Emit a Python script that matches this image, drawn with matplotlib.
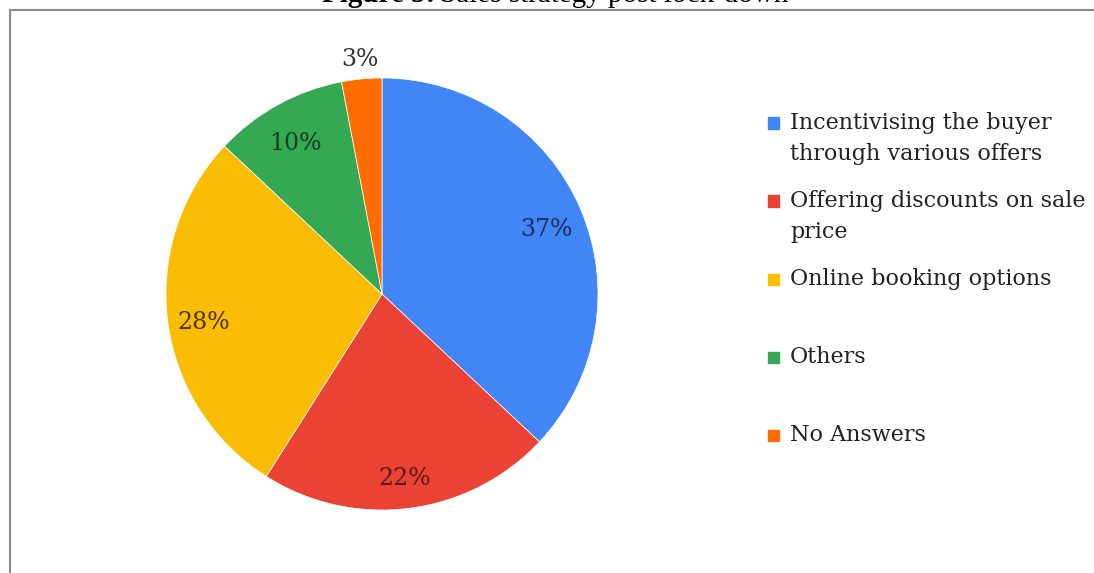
import numpy as np
import matplotlib
matplotlib.use("Agg")
import matplotlib.pyplot as plt
from matplotlib.patches import Rectangle

categories = ["Incentivising the buyer\nthrough various offers",
              "Offering discounts on sale\nprice",
              "Online booking options",
              "Others",
              "No Answers"]
values = [37, 22, 28, 10, 3]
colors = ["#4285F4", "#EA4335", "#FBBC04", "#34A853", "#FF6D01"]
label_colors = ["#1b2f5e", "#5e1a15", "#4a3500", "#143f20", "#333333"]

W, H = 1094, 573
fig = plt.figure(figsize=(W / 100, H / 100), dpi=100)

# frame around the chart
fig.patches.append(Rectangle((10 / W, -0.05), 1.1, 1 - 10 / H + 0.05,
                             transform=fig.transFigure, fill=False,
                             edgecolor="#8a8a8a", linewidth=1.5))

# pie axes: centre (382, 294) px, radius 216 px
cx, cy, r = 382, 294, 216
ax = fig.add_axes([(cx - r) / W, (H - cy - r) / H, 2 * r / W, 2 * r / H])
wedges, texts, autotexts = ax.pie(values, colors=colors, startangle=90,
                                  counterclock=False, autopct="%d%%",
                                  pctdistance=0.83,
                                  wedgeprops=dict(linewidth=0.5, edgecolor="white"),
                                  textprops=dict(fontsize=17, family="DejaVu Serif"))
ax.set_xlim(-1, 1)
ax.set_ylim(-1, 1)
ax.set_aspect("equal")

for w, t, c, v in zip(wedges, autotexts, label_colors, values):
    t.set_color(c)
    t.set_clip_on(False)
    x, y = t.get_position()
    t.set_position((x, y - 0.03))
    if v < 5:
        ang = np.deg2rad((w.theta1 + w.theta2) / 2)
        t.set_position((1.09 * np.cos(ang), 1.09 * np.sin(ang)))

# legend drawn by hand, one fixed slot per entry
slot_top = 123
slot_step = 78
for i, (lab, col) in enumerate(zip(categories, colors)):
    y = 1 - (slot_top + i * slot_step) / H
    fig.patches.append(Rectangle((768 / W, y - 5.5 / H), 11 / W, 11 / H,
                                 transform=fig.transFigure, color=col))
    fig.text(790 / W, y + 11 / H, lab, fontsize=16, family="DejaVu Serif",
             va="top", ha="left", color="#222222", linespacing=1.55)

# title, cut off at the top edge like the source
t1 = fig.text(322 / W, 1 - 2 / H, "Figure 5:", fontsize=21, fontweight="bold",
              family="Liberation Serif", va="baseline", ha="left")
fig.canvas.draw()
bb = t1.get_window_extent()
fig.text(bb.x1 / W + 5 / W, 1 - 2 / H, "Sales strategy post lock-down", fontsize=21,
         family="Liberation Serif", va="baseline", ha="left")

fig.savefig("out.png", dpi=100)
